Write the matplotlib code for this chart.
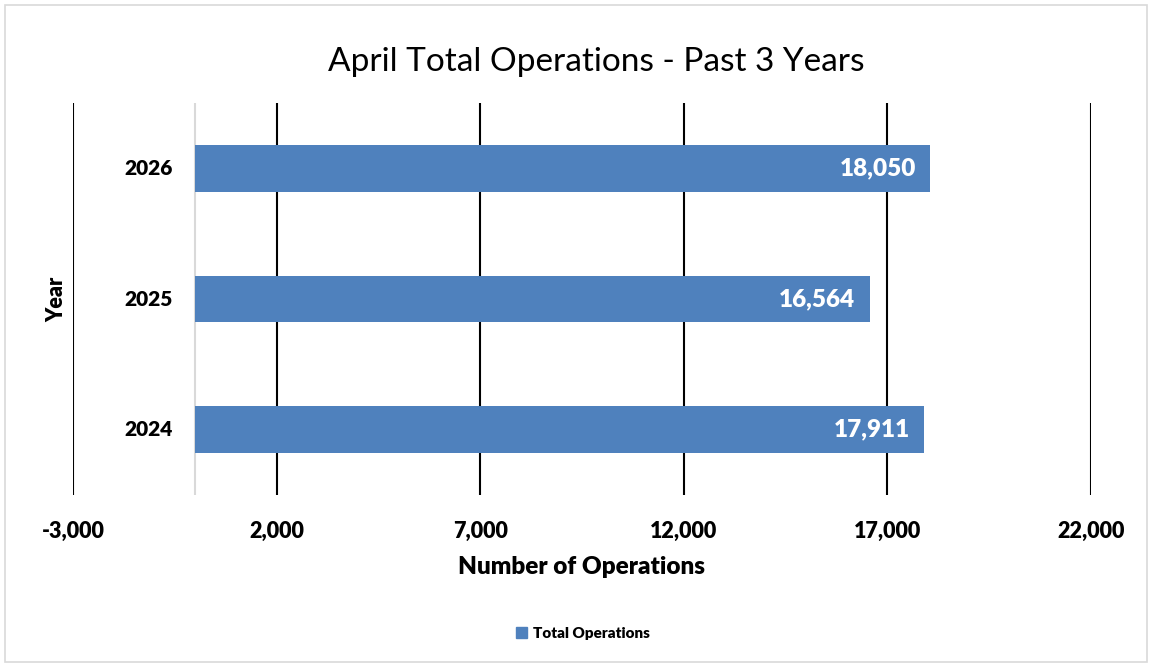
import matplotlib
matplotlib.use("Agg")
import matplotlib.pyplot as plt
from matplotlib.patches import Rectangle, Patch

years = ["2024", "2025", "2026"]
values = [17911, 16564, 18050]
xticks = [-3000, 2000, 7000, 12000, 17000, 22000]
title = "April Total Operations - Past 3 Years"
series_name = "Total Operations"

plt.rcParams['font.family'] = ['Lato', 'DejaVu Sans']
blue = "#4F81BD"
W = 'heavy'

fig = plt.figure(figsize=(11.49, 6.63), dpi=100)
fig.patches.append(Rectangle((0.004, 0.002), 0.994, 0.99, transform=fig.transFigure,
                             fill=False, edgecolor="#d9d9d9", linewidth=1.2))
ax = fig.add_axes([73/1149, 1-495/663, (1091-73)/1149, (495-103)/663])

ypos = list(range(len(years)))
ax.barh(ypos, values, height=0.355, color=blue, zorder=3)
ax.set_xlim(xticks[0], xticks[-1])
ax.set_ylim(-0.5, 2.5)
ax.set_xticks(xticks)
ax.set_xticklabels([f"{t:,}" for t in xticks], fontsize=15.5, fontweight=W)
ax.tick_params(axis='x', length=0, pad=19)
ax.set_yticks([])
for t in xticks:
    ax.axvline(t, color='black', linewidth=1.5, zorder=1)
ax.axvline(0, color='#d9d9d9', linewidth=1.5, zorder=2)
for s in ax.spines.values():
    s.set_visible(False)

for y, v, lab in zip(ypos, values, years):
    ax.text(v - 350, y, f"{v:,}", color='white', fontsize=17.5, fontweight=W,
            ha='right', va='center', zorder=4)
    ax.text(-550, y, lab, color='black', fontsize=15, fontweight=W,
            ha='right', va='center')

ax.set_xlabel("Number of Operations", fontsize=17.5, fontweight=W, labelpad=10)
fig.text(57/1149, 1-299/663, "Year", rotation=90, fontsize=15.5, fontweight=W,
         ha='center', va='center')
fig.text(596/1149, 1-62/663, title, fontsize=24, ha='center', va='center')

fig.legend(handles=[Patch(color=blue, label=series_name)], loc='center',
           bbox_to_anchor=(583/1149, 1-633/663), frameon=False,
           prop={'size': 11, 'weight': W}, handlelength=0.7, handleheight=0.7,
           handletextpad=0.4)

fig.savefig("out.png", dpi=100)
